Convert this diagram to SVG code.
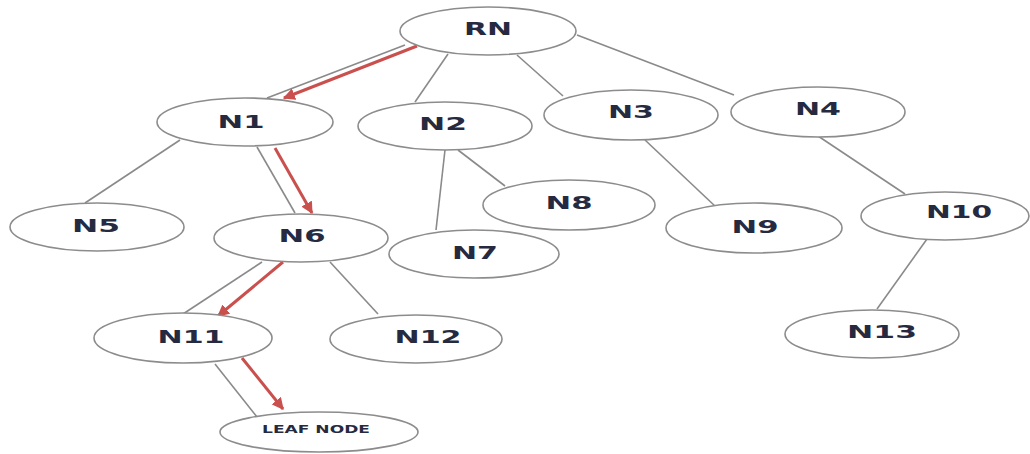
<svg xmlns="http://www.w3.org/2000/svg" width="1030" height="454" viewBox="0 0 1030 454">
<style>
.n ellipse{fill:#fff;stroke:#8c8c8c;stroke-width:1.6}
.n text{font-family:"DejaVu Sans",sans-serif;font-weight:bold;font-size:18px;fill:#262a40;text-anchor:middle}
.e line{stroke:#8a8a8a;stroke-width:1.6}
.p line{stroke:#c9504d;stroke-width:3}
</style>
<defs>
<marker id="ah" viewBox="0 0 10 10" refX="9" refY="5" markerWidth="4" markerHeight="4" orient="auto" markerUnits="strokeWidth">
<path d="M0,0 L10,5 L0,10 z" fill="#c9504d"/>
</marker>
</defs>
<rect width="1030" height="454" fill="#fff"/>
<g id="connectors">
<g class="e">
<line x1="405" y1="45" x2="267" y2="98"/>
<line x1="448" y1="54" x2="415" y2="102"/>
<line x1="517" y1="55" x2="563" y2="96"/>
<line x1="577" y1="35" x2="734" y2="95"/>
<line x1="180" y1="140" x2="85" y2="203"/>
<line x1="257" y1="147" x2="295" y2="213"/>
<line x1="445" y1="150" x2="436" y2="230"/>
<line x1="458" y1="150" x2="505" y2="186"/>
<line x1="645" y1="140" x2="716" y2="207"/>
<line x1="818" y1="136" x2="905" y2="194"/>
<line x1="927" y1="239" x2="877" y2="309"/>
<line x1="262" y1="262" x2="183" y2="314"/>
<line x1="330" y1="262" x2="378" y2="314"/>
<line x1="215" y1="364" x2="257" y2="417"/>
</g>
<g class="p">
<line x1="417" y1="46" x2="284" y2="98" marker-end="url(#ah)"/>
<line x1="275" y1="148" x2="312" y2="213" marker-end="url(#ah)"/>
<line x1="283" y1="262" x2="218" y2="316" marker-end="url(#ah)"/>
<line x1="242" y1="358" x2="283" y2="409" marker-end="url(#ah)"/>
</g>
</g>
<g id="RN" class="n"><ellipse cx="488" cy="31" rx="88" ry="24"/><text x="488" y="35" textLength="48" lengthAdjust="spacingAndGlyphs">RN</text></g>
<g id="N1" class="n"><ellipse cx="245" cy="122" rx="88" ry="24"/><text x="241" y="128" textLength="47" lengthAdjust="spacingAndGlyphs">N1</text></g>
<g id="N2" class="n"><ellipse cx="445" cy="126" rx="87" ry="24"/><text x="443" y="130" textLength="48" lengthAdjust="spacingAndGlyphs">N2</text></g>
<g id="N3" class="n"><ellipse cx="631" cy="115" rx="87" ry="25"/><text x="631" y="118" textLength="46" lengthAdjust="spacingAndGlyphs">N3</text></g>
<g id="N4" class="n"><ellipse cx="818" cy="112" rx="87" ry="25"/><text x="818" y="115" textLength="46" lengthAdjust="spacingAndGlyphs">N4</text></g>
<g id="N5" class="n"><ellipse cx="97" cy="227" rx="87" ry="24"/><text x="96" y="232" textLength="48" lengthAdjust="spacingAndGlyphs">N5</text></g>
<g id="N6" class="n"><ellipse cx="301" cy="238" rx="87" ry="24"/><text x="302" y="242" textLength="47" lengthAdjust="spacingAndGlyphs">N6</text></g>
<g id="N7" class="n"><ellipse cx="474" cy="254" rx="85" ry="24"/><text x="475" y="259" textLength="46" lengthAdjust="spacingAndGlyphs">N7</text></g>
<g id="N8" class="n"><ellipse cx="569" cy="205" rx="86" ry="25"/><text x="569" y="209" textLength="47" lengthAdjust="spacingAndGlyphs">N8</text></g>
<g id="N9" class="n"><ellipse cx="754" cy="228" rx="88" ry="25"/><text x="755" y="233" textLength="47" lengthAdjust="spacingAndGlyphs">N9</text></g>
<g id="N10" class="n"><ellipse cx="945" cy="216" rx="84" ry="24"/><text x="959" y="218" textLength="66" lengthAdjust="spacingAndGlyphs">N10</text></g>
<g id="N11" class="n"><ellipse cx="183" cy="338" rx="89" ry="25"/><text x="191" y="343" textLength="67" lengthAdjust="spacingAndGlyphs">N11</text></g>
<g id="N12" class="n"><ellipse cx="416" cy="339" rx="86" ry="24"/><text x="428" y="343" textLength="67" lengthAdjust="spacingAndGlyphs">N12</text></g>
<g id="N13" class="n"><ellipse cx="872" cy="334" rx="87" ry="24"/><text x="882" y="338" textLength="70" lengthAdjust="spacingAndGlyphs">N13</text></g>
<g id="LEAF" class="n"><ellipse cx="319" cy="432" rx="99" ry="20"/><text x="316" y="433" style="font-size:10px" textLength="108" lengthAdjust="spacingAndGlyphs">LEAF NODE</text></g>
</svg>
